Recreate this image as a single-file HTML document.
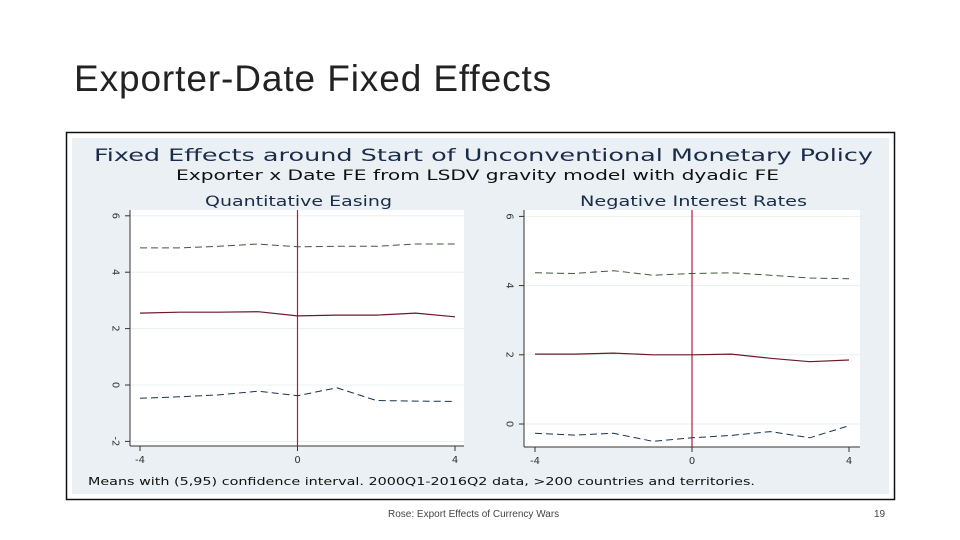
<!DOCTYPE html>
<html><head><meta charset="utf-8"><style>
body{margin:0;width:960px;height:540px;background:#fff;overflow:hidden;font-family:"Liberation Sans",sans-serif;position:relative}
#title{position:absolute;left:74px;top:58px;font-size:37px;color:#222;font-family:"Liberation Sans",sans-serif;font-weight:normal;letter-spacing:0.9px}
#foot{position:absolute;left:388px;top:509px;font-size:10px;color:#444}
#pg{position:absolute;left:874px;top:509px;font-size:10px;color:#444}
svg{position:absolute;left:0;top:0}
svg text{font-family:"DejaVu Sans","Liberation Sans",sans-serif}
</style></head><body>
<div id="title">Exporter-Date Fixed Effects</div>
<svg width="960" height="540">
<rect x="66.5" y="132.5" width="828" height="367" fill="#fff" stroke="#111" stroke-width="1.5"/>
<rect x="72" y="138" width="817" height="356" fill="#eaf0f3"/>
<text x="94" y="161" font-size="17" fill="#1a2c4a" textLength="779" lengthAdjust="spacingAndGlyphs">Fixed Effects around Start of Unconventional Monetary Policy</text>
<text x="176" y="180" font-size="14" fill="#111" textLength="603" lengthAdjust="spacingAndGlyphs">Exporter x Date FE from LSDV gravity model with dyadic FE</text>
<text x="88" y="485" font-size="11" fill="#111" textLength="667" lengthAdjust="spacingAndGlyphs">Means with (5,95) confidence interval.  2000Q1-2016Q2 data, &gt;200 countries and territories.</text>
<g id="p1"></g><g id="p2"></g>
</svg>
<div id="foot">Rose: Export Effects of Currency Wars</div>
<div id="pg">19</div>
<script>
const xs=[-4,-3,-2,-1,0,1,2,3,4];
const qeUpper=[4.86,4.86,4.92,5.0,4.9,4.92,4.92,5.0,5.0];
const qeMean=[2.55,2.58,2.58,2.6,2.45,2.48,2.48,2.55,2.42];
const qeLower=[-0.47,-0.42,-0.35,-0.22,-0.38,-0.1,-0.55,-0.57,-0.58];
const nirUpper=[4.37,4.35,4.43,4.3,4.35,4.37,4.3,4.22,4.2];
const nirMean=[2.02,2.02,2.05,2.0,2.0,2.02,1.9,1.8,1.85];
const nirLower=[-0.27,-0.32,-0.27,-0.5,-0.4,-0.33,-0.22,-0.4,-0.05];
const qeYTicks=[-2,0,2,4,6];
const nirYTicks=[0,2,4,6];
const xTicks=[-4,0,4];
const NS='http://www.w3.org/2000/svg';
function mk(p,t,a){const e=document.createElementNS(NS,t);for(const k in a)e.setAttribute(k,a[k]);p.appendChild(e);return e;}
function panel(g,cfg,up,mn,lo,yt,prefix){
 const X=v=>cfg.x0+(v-(-4))*(cfg.x1-cfg.x0)/8;
 const Y=v=>cfg.yz-v*cfg.py;
 const bg=mk(g,'rect',{x:cfg.l,y:210,width:cfg.r-cfg.l,height:cfg.b-210,fill:'#fff'});
 
 const t=mk(g,'text',{x:cfg.tx,y:206,'font-size':14,fill:'#1a2c4a',textLength:cfg.tw,lengthAdjust:'spacingAndGlyphs'});t.textContent=cfg.title;
 
 yt.forEach(v=>{mk(g,'line',{x1:cfg.l,x2:cfg.r,y1:Y(v),y2:Y(v),stroke:'#eaf0f3','stroke-width':1});
  mk(g,'line',{x1:cfg.l-5,x2:cfg.l,y1:Y(v),y2:Y(v),stroke:'#333'});
  const tx=mk(g,'text',{x:cfg.l-14,y:Y(v),'font-size':10,fill:'#333','text-anchor':'middle',transform:`rotate(90 ${cfg.l-14} ${Y(v)})`,dy:3.5});tx.textContent=v;
  });
 mk(g,'line',{x1:cfg.l,x2:cfg.l,y1:210,y2:cfg.b,stroke:'#333'});
 mk(g,'line',{x1:cfg.l,x2:cfg.r,y1:cfg.b,y2:cfg.b,stroke:'#333'});
 xTicks.forEach(v=>{mk(g,'line',{x1:X(v),x2:X(v),y1:cfg.b,y2:cfg.b+5,stroke:'#333'});
  const tx=mk(g,'text',{x:X(v),y:cfg.b+17,'font-size':10,fill:'#333','text-anchor':'middle'});tx.textContent=v;
  });
 const vl=mk(g,'rect',{x:X(0)-0.6,y:210,width:1.2,height:cfg.b-210,fill:'#c0143c'});
 
 const path=a=>xs.map((x,i)=>(i?'L':'M')+X(x).toFixed(1)+','+Y(a[i]).toFixed(1)).join('');
 const u=mk(g,'path',{d:path(up),fill:'none',stroke:'#3d5a3a','stroke-width':1,'stroke-dasharray':'7,4'});
 
 const m=mk(g,'path',{d:path(mn),fill:'none',stroke:'#6a1a2a','stroke-width':1.2});
 
 const l=mk(g,'path',{d:path(lo),fill:'none',stroke:'#1c3050','stroke-width':1,'stroke-dasharray':'7,4'});
 
}
panel(document.getElementById('p1'),{l:130,r:464,b:446,x0:140,x1:455,yz:385,py:28.2,title:'Quantitative Easing',tx:205,tw:187},qeUpper,qeMean,qeLower,qeYTicks,'qe');
panel(document.getElementById('p2'),{l:524,r:860,b:447,x0:535,x1:849,yz:424,py:34.6,title:'Negative Interest Rates',tx:580,tw:227},nirUpper,nirMean,nirLower,nirYTicks,'nir');
</script>
</body></html>
